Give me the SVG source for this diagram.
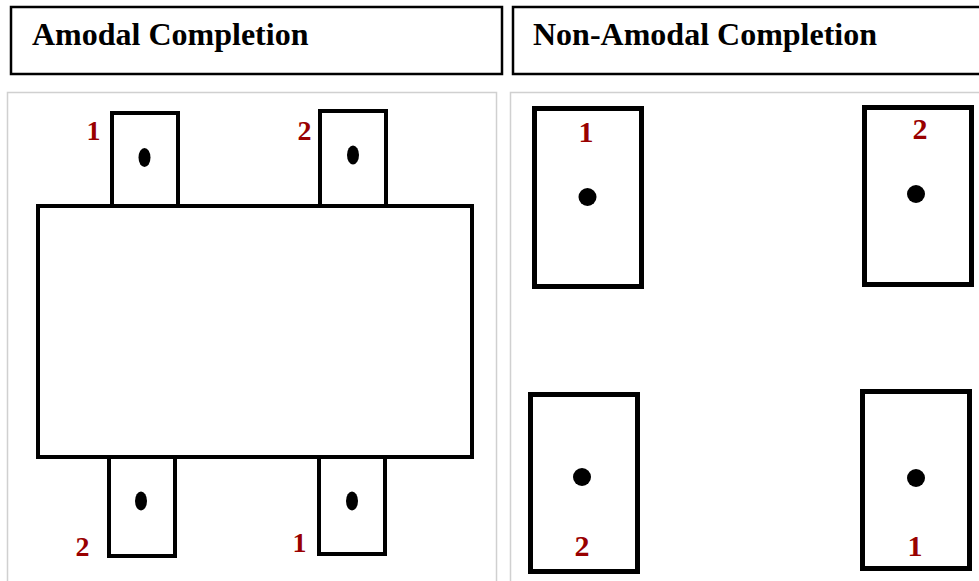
<svg xmlns="http://www.w3.org/2000/svg" width="979" height="581" viewBox="0 0 979 581">
<style>
.hdr{fill:#fff;stroke:#000;stroke-width:2.5}
.ttl{font-family:"Liberation Serif",serif;font-weight:bold;font-size:32px;fill:#000}
.panel{fill:#fff;stroke:#d0d0d0;stroke-width:1.5}
.ls{fill:#fff;stroke:#000;stroke-width:4}
.rs{fill:#fff;stroke:#000;stroke-width:5}
.dot{fill:#000}
.lnum{font-family:"Liberation Serif",serif;font-weight:bold;font-size:28px;fill:#990000;text-anchor:middle}
.rnum{font-family:"Liberation Serif",serif;font-weight:bold;font-size:30px;fill:#990000;text-anchor:middle}
</style>
<rect width="979" height="581" fill="#fff"/>
<g id="header-amodal">
<rect class="hdr" x="11" y="7" width="491" height="67"/>
<text class="ttl" x="32" y="45">Amodal Completion</text>
</g>
<g id="header-nonamodal">
<rect class="hdr" x="513" y="7" width="480" height="67"/>
<text class="ttl" x="533" y="45">Non-Amodal Completion</text>
</g>
<g id="panel-amodal">
<rect class="panel" x="7.5" y="92.5" width="489" height="520"/>
<g id="tab-top-1">
<rect class="ls" x="112" y="113" width="66" height="93"/>
<ellipse class="dot" cx="144.5" cy="157.5" rx="6" ry="9.5"/>
<text class="lnum" x="93.5" y="140">1</text>
</g>
<g id="tab-top-2">
<rect class="ls" x="320" y="111" width="66" height="95"/>
<ellipse class="dot" cx="353" cy="155" rx="6" ry="9.5"/>
<text class="lnum" x="304.5" y="140">2</text>
</g>
<g id="tab-bottom-2">
<rect class="ls" x="109" y="440" width="66" height="116"/>
<ellipse class="dot" cx="141" cy="501" rx="6" ry="9.5"/>
<text class="lnum" x="82.5" y="556">2</text>
</g>
<g id="tab-bottom-1">
<rect class="ls" x="319" y="440" width="66" height="114"/>
<ellipse class="dot" cx="352" cy="501" rx="6" ry="9.5"/>
<text class="lnum" x="299.5" y="552">1</text>
</g>
<g id="occluder">
<rect class="ls" x="38" y="206" width="434" height="251"/>
</g>
</g>
<g id="panel-nonamodal">
<rect class="panel" x="510.5" y="92.5" width="500" height="520"/>
<g id="box-top-1">
<rect class="rs" x="534.5" y="108.5" width="107" height="178"/>
<circle class="dot" cx="587.5" cy="197" r="9"/>
<text class="rnum" x="586" y="142">1</text>
</g>
<g id="box-top-2">
<rect class="rs" x="864.5" y="107.5" width="107" height="177"/>
<circle class="dot" cx="916" cy="194" r="9"/>
<text class="rnum" x="920" y="139">2</text>
</g>
<g id="box-bottom-2">
<rect class="rs" x="530.5" y="394.5" width="107" height="177"/>
<circle class="dot" cx="582" cy="477" r="9"/>
<text class="rnum" x="582" y="556">2</text>
</g>
<g id="box-bottom-1">
<rect class="rs" x="862.5" y="391.5" width="107" height="177"/>
<circle class="dot" cx="916" cy="478" r="9"/>
<text class="rnum" x="915" y="556">1</text>
</g>
</g>
<g id="connectors"/>
</svg>
